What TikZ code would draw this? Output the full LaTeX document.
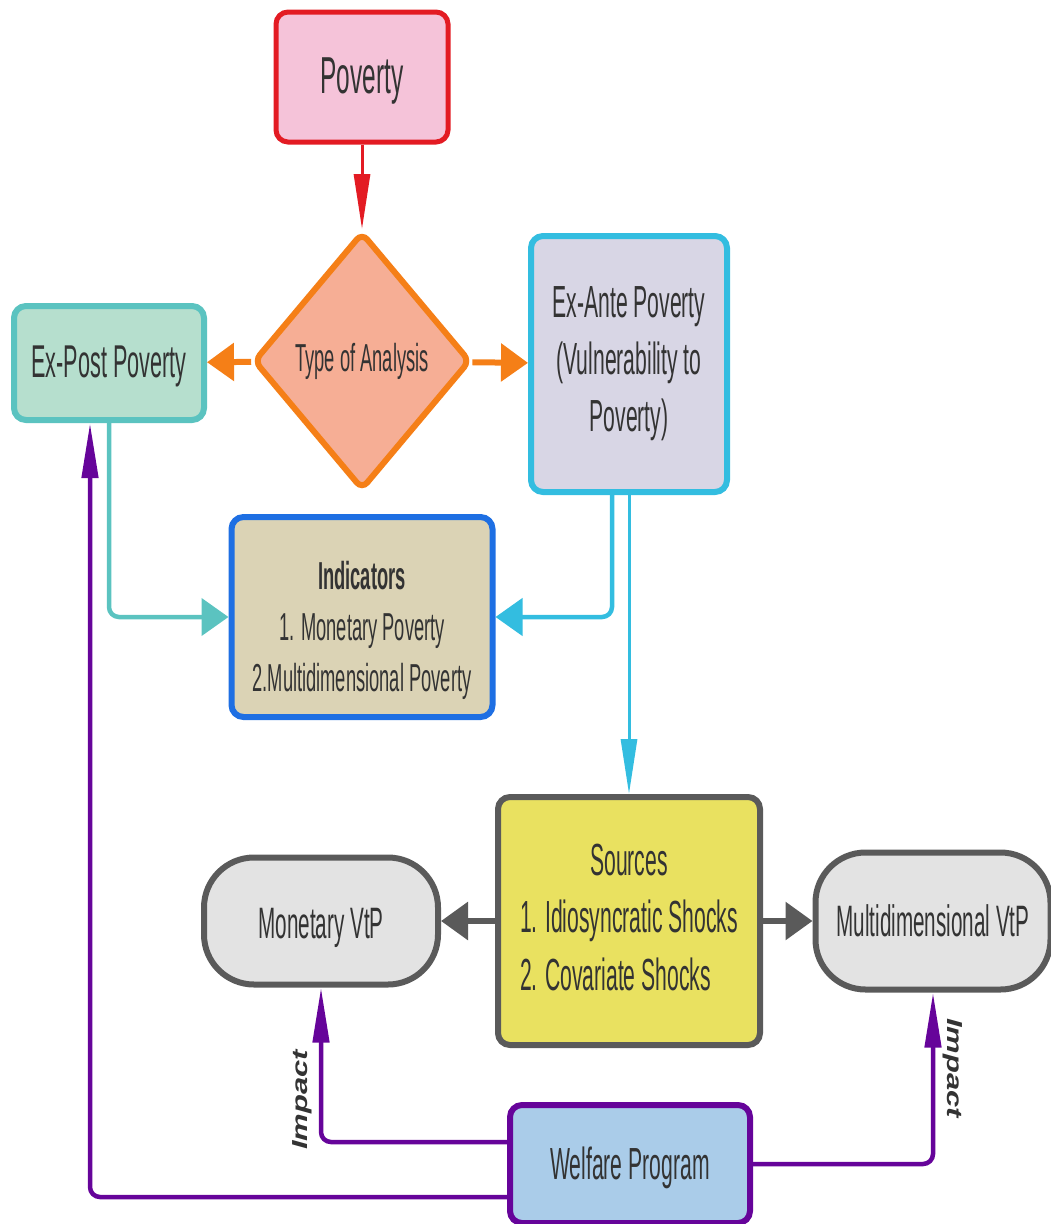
\documentclass[tikz,border=0pt]{standalone}
\usepackage{fontspec}
\setmainfont{Liberation Sans}[FakeStretch=0.47]
\newfontfamily\impactfont{Liberation Sans}
\usetikzlibrary{arrows.meta,shapes.geometric,calc}

\definecolor{povdraw}{HTML}{E31B23}
\definecolor{povfill}{HTML}{F5C3D9}
\definecolor{typdraw}{HTML}{F57F17}
\definecolor{typfill}{HTML}{F6AE95}
\definecolor{postdraw}{HTML}{5BC3C0}
\definecolor{postfill}{HTML}{B6DFCE}
\definecolor{antedraw}{HTML}{33BDE0}
\definecolor{antefill}{HTML}{D8D6E5}
\definecolor{inddraw}{HTML}{1E6FE3}
\definecolor{indfill}{HTML}{DBD3B5}
\definecolor{srcdraw}{HTML}{5A5A5A}
\definecolor{srcfill}{HTML}{E9E160}
\definecolor{vtpfill}{HTML}{E3E3E3}
\definecolor{weldraw}{HTML}{66049A}
\definecolor{welfill}{HTML}{AACCE9}
\definecolor{txtgray}{HTML}{333333}

\newcommand\fsz[2]{\fontsize{#1}{#2}\selectfont}

\tikzset{every picture/.style={line width=0.75pt}}
\tikzset{
flowbox/.style={draw, rounded corners=12pt, line width=6pt, text=txtgray, align=center, inner sep=0pt},
vtpbox/.style={flowbox, rounded corners=50pt, draw=srcdraw, fill=vtpfill, minimum width=234pt},
hhead/.style={-{Triangle[length=27pt,width=37pt]}},
vhead/.style={-{Triangle[length=55pt,width=16pt]}},
impactlbl/.style={text=txtgray, inner sep=0pt, font=\impactfont\itshape\bfseries\fsz{31}{40}}}

\begin{document}
\begin{tikzpicture}[x=1pt,y=1pt,yscale=-1]
\path[use as bounding box] (0,0) rectangle (1050,1224);

% Text Node
\node[flowbox, draw=povdraw, fill=povfill, line width=5pt, minimum width=172pt, minimum height=130pt, font=\fsz{52}{60}] (pov) at (362,77) {\rule{0pt}{44pt}Poverty};
% Diamond
\node[diamond, draw=typdraw, fill=typfill, line width=6pt, rounded corners=8pt, inner sep=0pt, minimum width=217pt, minimum height=258pt, text=txtgray, font=\fsz{39}{46}] (typ) at (362,361) {Type of Analysis};
% Text Node
\node[flowbox, draw=postdraw, fill=postfill, minimum width=190pt, minimum height=114pt, font=\fsz{46}{55}] (post) at (109,363) {\rule{0pt}{38pt}Ex-Post Poverty};
% Text Node
\node[flowbox, draw=antedraw, fill=antefill, minimum width=196pt, minimum height=256pt, font=\fsz{45}{57}] (ante) at (629,364) {Ex-Ante Poverty\\(Vulnerability to\\Poverty)};
% Text Node
\node[flowbox, draw=inddraw, fill=indfill, minimum width=261pt, minimum height=200pt, font=\fsz{39}{51}] (ind) at (362,617) {\rule{0pt}{56pt}\textbf{Indicators}\\1. Monetary Poverty\\2.Multidimensional Poverty};
% Text Node
\node[flowbox, draw=srcdraw, fill=srcfill, minimum width=262pt, minimum height=248pt, font=\fsz{45}{57.5}] (src) at (629,921) {\begin{tabular}{@{}l@{}}\multicolumn{1}{@{}c@{}}{Sources}\\1.\,Idiosyncratic Shocks\\2.\,Covariate Shocks\end{tabular}};
% Terminal
\node[vtpbox, minimum height=127pt, font=\fsz{44}{52}] (mvtp) at (321,921) {\rule{0pt}{44pt}Monetary VtP};
% Terminal
\node[vtpbox, minimum width=235pt, minimum height=137pt, font=\fsz{44}{52}] (dvtp) at (933,921) {Multidimensional VtP};
% Text Node
\node[flowbox, draw=weldraw, fill=welfill, minimum width=240pt, minimum height=118pt, font=\fsz{45}{54}] (wel) at (630,1164) {\rule{0pt}{40pt}Welfare Program};

%Straight Lines
\draw[vhead, povdraw, line width=3pt] (pov) -- (typ);
\draw[hhead, typdraw, line width=6pt] (typ) -- (post);
\draw[hhead, typdraw, line width=6pt] (typ) -- (ante);
%Elbow Lines
\draw[hhead, postdraw, line width=4.5pt, rounded corners=10pt] (post.south) |- (ind.west);
\draw[hhead, antedraw, line width=4.5pt, rounded corners=10pt] ($(ante.south)+(-17,0)$) |- (ind.east);
\draw[vhead, antedraw, line width=3pt] (ante.south) -- (src.north);
\draw[hhead, srcdraw, line width=6pt] (src) -- (mvtp);
\draw[hhead, srcdraw, line width=6pt] (src) -- (dvtp);
\draw[vhead, weldraw, line width=4.5pt, rounded corners=10pt] ($(wel.west)+(0,-22)$) -| (mvtp.south);
\draw[vhead, weldraw, line width=4.5pt, rounded corners=10pt] (wel.east) -| (dvtp.south);
\draw[vhead, weldraw, line width=4.5pt, rounded corners=10pt] ($(wel.west)+(0,33)$) -| ($(post.south)+(-19,0)$);

% Labels
\node[impactlbl, rotate=90] (imp1) at (302,1100) {\scalebox{1}[0.7]{Impact}};
\node[impactlbl, rotate=-90] (imp2) at (953,1068) {\scalebox{1}[0.7]{Impact}};

\end{tikzpicture}
\end{document}
